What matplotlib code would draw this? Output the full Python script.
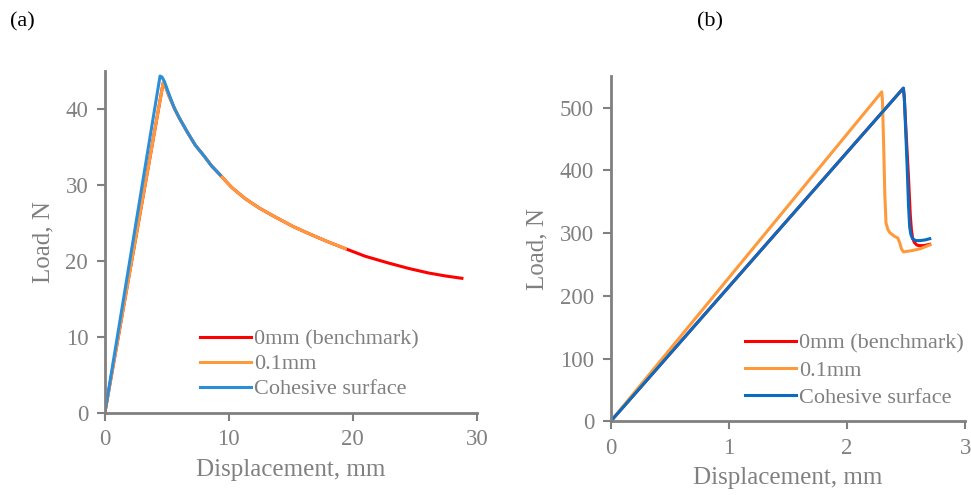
import matplotlib
matplotlib.use('Agg')
import matplotlib.pyplot as plt

plt.rcParams['font.family'] = ['Liberation Serif', 'DejaVu Serif']

GREY = '#808080'
RED = '#ff0000'
ORANGE = '#ff9a3c'
BLUE_A = '#2a8fd8'
BLUE_B = '#0a6cc0'

# (a) load-displacement, mm / N
a_red_x = [0, 4.7, 4.9, 5.2, 5.6, 6.0, 6.7, 7.3, 8.0, 8.6, 9.3, 10.2, 11.3, 12.5, 13.7,
           15.2, 16.7, 18.0, 19.4, 21.0, 22.9, 24.5, 26.1, 27.5, 28.8]
a_red_y = [0, 43.4, 42.9, 41.6, 40.1, 38.8, 36.8, 35.2, 33.8, 32.5, 31.3, 29.7, 28.2, 26.9, 25.8,
           24.5, 23.4, 22.5, 21.6, 20.6, 19.7, 19.0, 18.4, 18.0, 17.7]
a_orange_x = a_red_x[:19]
a_orange_y = a_red_y[:19]
a_blue_x = [0, 4.45, 4.6, 4.8, 5.2, 5.6, 6.0, 6.7, 7.3, 8.0, 8.6, 9.3]
a_blue_y = [0, 44.3, 44.2, 43.6, 41.8, 40.1, 38.8, 36.8, 35.2, 33.8, 32.5, 31.3]

# (b) load-displacement, mm / N
b_red_x = [0, 2.477, 2.485, 2.50, 2.52, 2.535, 2.545, 2.555, 2.57, 2.59, 2.61, 2.65, 2.70]
b_red_y = [0, 531, 515, 460, 390, 330, 305, 292, 285, 281, 280, 280, 282]
b_orange_x = [0, 2.294, 2.300, 2.310, 2.32, 2.33, 2.345, 2.36, 2.40, 2.43, 2.445, 2.46, 2.477,
              2.55, 2.62, 2.70]
b_orange_y = [0, 525, 510, 440, 360, 316, 306, 301, 295, 292, 285, 275, 270,
              272, 275, 281]
b_blue_x = [0, 2.477, 2.485, 2.495, 2.51, 2.52, 2.53, 2.54, 2.555, 2.58, 2.62, 2.66, 2.70]
b_blue_y = [0, 531, 515, 470, 400, 345, 310, 298, 291, 288, 288, 289, 291]

labels = ['0mm (benchmark)', '0.1mm', 'Cohesive surface']

fig = plt.figure(figsize=(9.71, 4.95), dpi=100)
ax1 = fig.add_axes([0.108, 0.166, 0.383, 0.691])
ax2 = fig.add_axes([0.629, 0.149, 0.365, 0.697])


def style(ax):
    for s in ['top', 'right']:
        ax.spines[s].set_visible(False)
    for s in ['left', 'bottom']:
        ax.spines[s].set_color(GREY)
        ax.spines[s].set_linewidth(2)
    ax.tick_params(colors=GREY, labelcolor=GREY, labelsize=16.5, width=1.5, length=6, pad=6)
    ax.set_xlabel('Displacement, mm', color=GREY, fontsize=18, labelpad=6)
    ax.set_ylabel('Load, N', color=GREY, fontsize=18, labelpad=8)


ax1.plot(a_red_x, a_red_y, color=RED, lw=2.2, label=labels[0])
ax1.plot(a_orange_x, a_orange_y, color=ORANGE, lw=2.2, label=labels[1])
ax1.plot(a_blue_x, a_blue_y, color=BLUE_A, lw=2.2, label=labels[2])
ax1.set_xlim(0, 30)
ax1.set_ylim(0, 45)
ax1.set_xticks([0, 10, 20, 30])
ax1.set_yticks([0, 10, 20, 30, 40])
style(ax1)
ax1.legend(frameon=False, fontsize=16, labelcolor=GREY, loc='lower left',
           bbox_to_anchor=(0.22, 0.0), handlelength=2.3, handletextpad=0.15,
           labelspacing=0.2, borderaxespad=0.2)

ax2.plot(b_red_x, b_red_y, color=RED, lw=2.2, label=labels[0])
ax2.plot(b_orange_x, b_orange_y, color=ORANGE, lw=2.2, label=labels[1])
ax2.plot(b_blue_x, b_blue_y, color=BLUE_B, lw=2.2, label=labels[2])
ax2.set_xlim(0, 3)
ax2.set_ylim(0, 550)
ax2.set_xticks([0, 1, 2, 3])
ax2.set_yticks([0, 100, 200, 300, 400, 500])
style(ax2)
ax2.legend(frameon=False, fontsize=16, labelcolor=GREY, loc='lower right',
           bbox_to_anchor=(1.035, 0.0), handlelength=2.3, handletextpad=0.15,
           labelspacing=0.3, borderaxespad=0.2)

fig.text(0.010, 0.955, '(a)', fontsize=16, va='center')
fig.text(0.718, 0.955, '(b)', fontsize=16, va='center')

fig.savefig('out.png', dpi=100)
